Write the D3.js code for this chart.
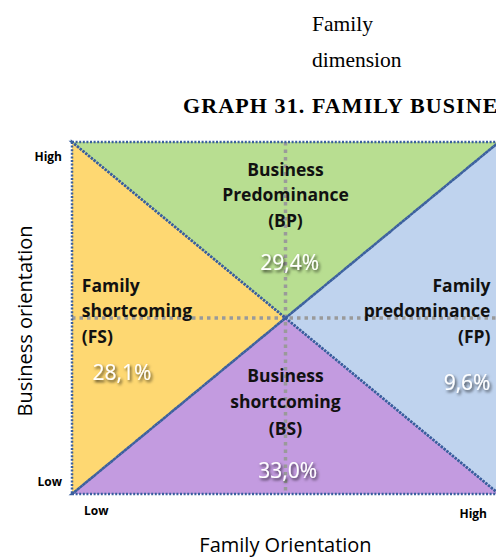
<!DOCTYPE html>
<html>
<head>
<meta charset="utf-8">
<script src="https://cdn.jsdelivr.net/npm/d3@7"></script>
<style>
  body { margin: 0; background: #fff; }
  svg { display: block; }
</style>
</head>
<body>
<svg></svg>
<script>
// quadrant data
let regionNames = ["Business Predominance", "Family shortcoming", "Family predominance", "Business shortcoming"]
let regionLines = [["Business", "Predominance", "(BP)"], ["Family", "shortcoming", "(FS)"], ["Family", "predominance", "(FP)"], ["Business", "shortcoming", "(BS)"]]
let regionCodes = ["BP", "FS", "FP", "BS"]
let regionShares = [29.4, 28.1, 9.6, 33.0]
let regionColors = ["#b8de91", "#fed872", "#bfd3ee", "#c39be0"]
// triangle corners in (family, business) orientation units, 0 = low, 1 = high
let regionCorners = [
  [[0, 1], [1, 1], [0.5, 0.5]],
  [[0, 1], [0, 0], [0.5, 0.5]],
  [[1, 1], [1, 0], [0.5, 0.5]],
  [[0, 0], [1, 0], [0.5, 0.5]]
]
let tickLabels = ["Low", "High"]

let width = 496
let height = 558
let sans = "'Open Sans', sans-serif"
let serif = "'Liberation Serif', serif"

let svg = d3.select("svg").attr("width", width).attr("height", height)

let xScale = d3.scaleLinear().domain([0, 1]).range([72, 499])
let yScale = d3.scaleLinear().domain([0, 1]).range([494, 142])

let defs = svg.append("defs")
let shadow = defs.append("filter").attr("id", "shadow")
    .attr("x", "-20%").attr("y", "-30%").attr("width", "150%").attr("height", "170%")
shadow.append("feDropShadow")
    .attr("dx", 1.5).attr("dy", 2).attr("stdDeviation", 1.5)
    .attr("flood-color", "#000").attr("flood-opacity", 0.75)

// page text above the chart (the title runs off the right edge, as in the source page)
svg.append("text").attr("x", 312).attr("y", 31)
    .style("font-family", serif).style("font-size", "21.5px").text("Family")
svg.append("text").attr("x", 312).attr("y", 67)
    .style("font-family", serif).style("font-size", "21.5px").text("dimension")
svg.append("text").attr("x", 183).attr("y", 113)
    .style("font-family", serif).style("font-size", "22px")
    .style("letter-spacing", "1.1px")
    .style("font-weight", "bold").text("GRAPH 31. FAMILY BUSINESS")

// triangles
let line = d3.line().x(d => xScale(d[0])).y(d => yScale(d[1])).curve(d3.curveLinearClosed)

svg.selectAll("path.region")
    .data(regionCorners)
    .enter()
    .append("path")
    .attr("class", "region")
    .attr("d", d => line(d))
    .attr("fill", (d, i) => regionColors[i])

// gray dotted midlines
svg.append("line")
    .attr("x1", xScale(0)).attr("x2", xScale(1))
    .attr("y1", yScale(0.5)).attr("y2", yScale(0.5))
    .attr("stroke", "#9a9a9a").attr("stroke-width", 3.5).attr("stroke-dasharray", "3.5 4")
svg.append("line")
    .attr("x1", xScale(0.5)).attr("x2", xScale(0.5))
    .attr("y1", yScale(1)).attr("y2", yScale(0))
    .attr("stroke", "#9a9a9a").attr("stroke-width", 3.5).attr("stroke-dasharray", "3.5 4")

// blue dotted outlines of triangles
svg.selectAll("path.edge")
    .data(regionCorners)
    .enter()
    .append("path")
    .attr("class", "edge")
    .attr("d", d => line(d))
    .attr("fill", "none")
    .attr("stroke", "#3a5f9e")
    .attr("stroke-width", 2.5)
    .attr("stroke-dasharray", "2 1.6")

// region label placement
let labelPos = [
  {x: 0.5, y: 0.904, step: 25.5, anchor: "middle", pct: [0.51, 0.635], pctAnchor: "middle"},
  {x: 0.023, y: 0.574, step: 25.5, anchor: "start", pct: [0.117, 0.325], pctAnchor: "middle"},
  {x: 0.98, y: 0.574, step: 25.5, anchor: "end", pct: [0.98, 0.295], pctAnchor: "end"},
  {x: 0.5, y: 0.319, step: 26.5, anchor: "middle", pct: [0.505, 0.045], pctAnchor: "middle"}
]

let labels = svg.selectAll("g.label")
    .data(regionLines)
    .enter()
    .append("g")
    .attr("class", "label")

labels.each(function(lines, i) {
  let p = labelPos[i]
  d3.select(this).selectAll("text")
    .data(lines)
    .enter()
    .append("text")
    .attr("x", xScale(p.x))
    .attr("y", (t, j) => yScale(p.y) + j * p.step)
    .attr("text-anchor", p.anchor)
    .style("font-family", sans)
    .style("font-weight", "bold")
    .style("font-size", "17.5px")
    .attr("fill", "#111")
    .text(t => t)
  d3.select(this).append("text")
    .attr("x", xScale(p.pct[0]))
    .attr("y", yScale(p.pct[1]))
    .attr("text-anchor", p.pctAnchor)
    .style("font-family", sans)
    .style("font-size", "21px")
    .attr("fill", "#fff")
    .attr("filter", "url(#shadow)")
    .text(regionShares[i].toFixed(1).replace(".", ",") + "%")
})

// axis end labels
svg.selectAll("text.ylab")
    .data(tickLabels)
    .enter()
    .append("text")
    .attr("class", "ylab")
    .attr("x", 62)
    .attr("y", (d, i) => i == 0 ? yScale(0) - 8 : yScale(1) + 19)
    .attr("text-anchor", "end")
    .style("font-family", sans).style("font-weight", "bold").style("font-size", "12px")
    .text(d => d)

svg.selectAll("text.xlab")
    .data(tickLabels)
    .enter()
    .append("text")
    .attr("class", "xlab")
    .attr("x", (d, i) => i == 0 ? xScale(0) + 12 : xScale(1) - 12)
    .attr("y", (d, i) => i == 0 ? yScale(0) + 21 : yScale(0) + 24)
    .attr("text-anchor", (d, i) => i == 0 ? "start" : "end")
    .style("font-family", sans).style("font-weight", "bold").style("font-size", "12px")
    .text(d => d)

// axis titles
svg.append("text")
    .attr("transform", "translate(32," + (yScale(0.5) + 3) + ") rotate(-90)")
    .attr("text-anchor", "middle")
    .style("font-family", sans).style("font-size", "20px")
    .text("Business orientation")

svg.append("text")
    .attr("x", xScale(0.5))
    .attr("y", 552)
    .attr("text-anchor", "middle")
    .style("font-family", sans).style("font-size", "20px")
    .text("Family Orientation")
</script>
</body>
</html>
